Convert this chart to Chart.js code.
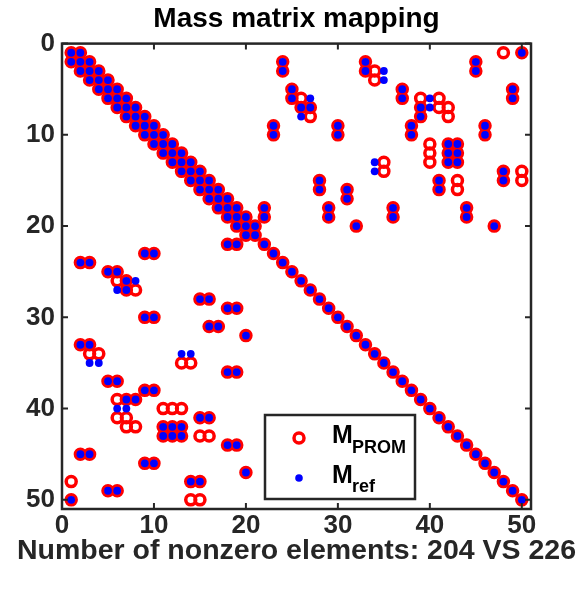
<!DOCTYPE html>
<html>
<head>
<meta charset="utf-8">
<script src="https://cdn.jsdelivr.net/npm/chart.js@4.4.0/dist/chart.umd.min.js"></script>
<style>
  html, body { margin: 0; padding: 0; background: #fff; }
  #wrap { width: 584px; height: 593px; }
</style>
</head>
<body>
<div id="wrap"><canvas id="spyChart" width="584" height="593"></canvas></div>
<script>
// Nonzero entries of the 50x50 mass matrices, as [row, col]
// band part (tridiagonal up to row 21, then only the diagonal) - same in both
const band = [
  [1,1],[1,2],
  [2,1],[2,2],[2,3],
  [3,2],[3,3],[3,4],
  [4,3],[4,4],[4,5],
  [5,4],[5,5],[5,6],
  [6,5],[6,6],[6,7],
  [7,6],[7,7],[7,8],
  [8,7],[8,8],[8,9],
  [9,8],[9,9],[9,10],
  [10,9],[10,10],[10,11],
  [11,10],[11,11],[11,12],
  [12,11],[12,12],[12,13],
  [13,12],[13,13],[13,14],
  [14,13],[14,14],[14,15],
  [15,14],[15,15],[15,16],
  [16,15],[16,16],[16,17],
  [17,16],[17,17],[17,18],
  [18,17],[18,18],[18,19],
  [19,18],[19,19],[19,20],
  [20,19],[20,20],[20,21],
  [21,20],[21,21],
  [22,22],[23,23],[24,24],[25,25],[26,26],[27,27],[28,28],[29,29],[30,30],
  [31,31],[32,32],[33,33],[34,34],[35,35],[36,36],[37,37],[38,38],[39,39],[40,40],
  [41,41],[42,42],[43,43],[44,44],[45,45],[46,46],[47,47],[48,48],[49,49],[50,50]
];

// off-band entries found in both matrices
const sharedUpper = [
  [2,24],[3,24],[5,25],[6,25],[7,26],[7,27],[9,23],[10,23],[9,30],[10,30],
  [2,33],[3,33],[2,45],[3,45],[1,50],[5,37],[6,37],[5,49],[6,49],[7,39],[8,39],
  [9,38],[10,38],[9,46],[10,46],[11,42],[12,42],[13,42],[11,43],[12,43],[13,43],
  [15,41],[16,41],[14,48],[15,48],[18,36],[19,36],[18,44],[19,44],[20,47],
  [15,28],[16,28],[16,31],[17,31],[18,29],[19,29],[20,32],[18,22],[19,22]
];
const sharedLower = [
  [24,2],[24,3],[25,5],[25,6],[26,7],[27,7],[23,9],[23,10],[30,9],[30,10],
  [33,2],[33,3],[45,2],[45,3],[50,1],[37,5],[37,6],[49,5],[49,6],[39,7],[39,8],
  [38,9],[38,10],[46,9],[46,10],[42,11],[42,12],[42,13],[43,11],[43,12],[43,13],
  [41,15],[41,16],[48,14],[48,15],[36,18],[36,19],[44,18],[44,19],[47,20],
  [28,15],[28,16],[31,16],[31,17],[29,18],[29,19],[32,20],[22,18],[22,19]
];

// entries only in the PROM matrix
const promUpper = [
  [6,26],[8,27],[3,34],[4,34],[1,48],[6,39],[6,41],[7,41],[7,42],[8,42],
  [11,40],[12,40],[13,40],[13,35],[14,35],[15,43],[16,43],[14,50],[15,50]
];
const promLower = [
  [26,6],[27,8],[34,3],[34,4],[48,1],[39,6],[41,6],[41,7],[42,7],[42,8],
  [40,11],[40,12],[40,13],[35,13],[35,14],[43,15],[43,16],[50,14],[50,15]
];

// entries only in the reference matrix
const refUpper = [[8,26],[6,27],[3,35],[4,35],[6,40],[7,40],[13,34],[14,34]];
const refLower = [[26,8],[27,6],[35,3],[35,4],[40,6],[40,7],[34,13],[34,14]];

const tickValues = [0, 10, 20, 30, 40, 50];
const axisMax = 51;
const xLabel = 'Number of nonzero elements: 204 VS 226';

const FONT = '"Liberation Sans", Arial, Helvetica, sans-serif';
const AXIS_COLOR = '#262626';

function toPoints(list) {
  return list.map(p => ({ x: p[1], y: p[0] }));
}
const promPoints = toPoints(band.concat(sharedUpper, sharedLower, promUpper, promLower));
const refPoints = toPoints(band.concat(sharedUpper, sharedLower, refUpper, refLower));

// MATLAB-like box with inward ticks, the x label (wider than the plot) and the legend
const boxPlugin = {
  id: 'boxPlugin',
  afterDatasetsDraw(chart) {
    const { ctx, chartArea: a, scales: { x, y } } = chart;
    ctx.save();
    ctx.strokeStyle = AXIS_COLOR;
    ctx.lineWidth = 2.5;
    ctx.strokeRect(a.left, a.top, a.right - a.left, a.bottom - a.top);
    ctx.lineWidth = 2;
    const tl = 6;
    ctx.beginPath();
    tickValues.forEach(v => {
      const px = x.getPixelForValue(v);
      ctx.moveTo(px, a.bottom); ctx.lineTo(px, a.bottom - tl);
      ctx.moveTo(px, a.top); ctx.lineTo(px, a.top + tl);
      const py = y.getPixelForValue(v);
      ctx.moveTo(a.left, py); ctx.lineTo(a.left + tl, py);
      ctx.moveTo(a.right, py); ctx.lineTo(a.right - tl, py);
    });
    ctx.stroke();

    // x label
    ctx.fillStyle = AXIS_COLOR;
    ctx.font = 'bold 28.5px ' + FONT;
    ctx.textAlign = 'center';
    ctx.textBaseline = 'alphabetic';
    ctx.fillText(xLabel, (a.left + a.right) / 2, a.bottom + 50);

    // legend
    const lx = 265, ly = 415, lw = 150, lh = 84;
    ctx.fillStyle = '#fff';
    ctx.fillRect(lx, ly, lw, lh);
    ctx.lineWidth = 2.5;
    ctx.strokeStyle = AXIS_COLOR;
    ctx.strokeRect(lx, ly, lw, lh);

    ctx.beginPath();
    ctx.arc(lx + 34, ly + 23, 5, 0, Math.PI * 2);
    ctx.strokeStyle = '#ff0000';
    ctx.lineWidth = 3.5;
    ctx.stroke();
    ctx.beginPath();
    ctx.arc(lx + 34, ly + 63, 3.8, 0, Math.PI * 2);
    ctx.fillStyle = '#0000ff';
    ctx.fill();

    ctx.fillStyle = '#000';
    ctx.textAlign = 'left';
    ctx.font = 'bold 25px ' + FONT;
    ctx.fillText('M', lx + 67, ly + 28);
    ctx.fillText('M', lx + 67, ly + 68);
    ctx.font = 'bold 18px ' + FONT;
    ctx.fillText('PROM', lx + 87, ly + 38);
    ctx.fillText('ref', lx + 87, ly + 77);
    ctx.restore();
  }
};

new Chart(document.getElementById('spyChart'), {
  type: 'scatter',
  data: {
    datasets: [
      {
        label: 'M_PROM',
        data: promPoints,
        pointStyle: 'circle',
        pointRadius: 5,
        pointBorderWidth: 3.5,
        pointBorderColor: '#ff0000',
        pointBackgroundColor: 'rgba(0,0,0,0)',
        order: 2
      },
      {
        label: 'M_ref',
        data: refPoints,
        pointStyle: 'circle',
        pointRadius: 3.9,
        pointBorderWidth: 0,
        pointBackgroundColor: '#0000ff',
        order: 1
      }
    ]
  },
  options: {
    responsive: false,
    devicePixelRatio: 1,
    animation: false,
    events: [],
    layout: { padding: { left: 9, right: 0, top: 0, bottom: 0 } },
    plugins: {
      legend: { display: false },
      tooltip: { enabled: false },
      title: {
        display: true,
        text: 'Mass matrix mapping',
        color: '#000',
        font: { family: FONT, size: 28, weight: 'bold' },
        padding: { top: 2, bottom: 8 }
      }
    },
    scales: {
      x: {
        type: 'linear',
        position: 'bottom',
        min: 0,
        max: axisMax,
        grid: { display: false, drawTicks: false },
        border: { display: false },
        ticks: {
          color: AXIS_COLOR,
          font: { family: FONT, size: 26, weight: 'bold' },
          padding: 1,
          maxRotation: 0
        },
        afterBuildTicks: s => { s.ticks = tickValues.map(v => ({ value: v })); },
        afterFit: s => { s.height = 84; }
      },
      y: {
        type: 'linear',
        position: 'left',
        min: 0,
        max: axisMax,
        reverse: true,
        grid: { display: false, drawTicks: false },
        border: { display: false },
        ticks: {
          color: AXIS_COLOR,
          font: { family: FONT, size: 26, weight: 'bold' },
          padding: 7
        },
        afterBuildTicks: s => { s.ticks = tickValues.map(v => ({ value: v })); },
        afterFit: s => { s.width = 53; }
      },
      yRight: {
        type: 'linear',
        position: 'right',
        min: 0,
        max: axisMax,
        grid: { display: false, drawTicks: false },
        border: { display: false },
        ticks: { display: false },
        afterFit: s => { s.width = 53; }
      }
    }
  },
  plugins: [boxPlugin]
});
</script>
</body>
</html>
